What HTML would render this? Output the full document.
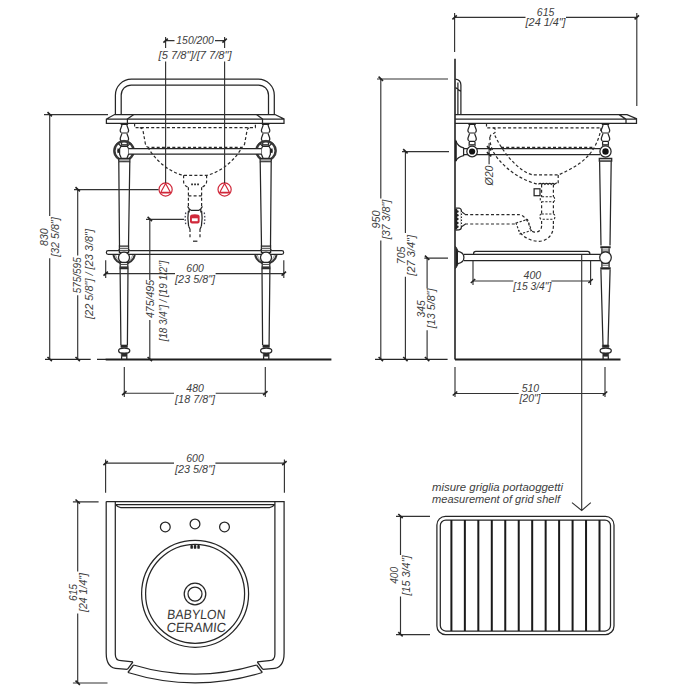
<!DOCTYPE html>
<html><head><meta charset="utf-8">
<style>
html,body{margin:0;padding:0;background:#fff;width:700px;height:700px;overflow:hidden}
svg{display:block}
text{font-family:"Liberation Sans",sans-serif;font-style:italic;fill:#404040}
.o{stroke:#262626;stroke-width:1.25}
.d{stroke:#333;stroke-width:1.15}
.h{stroke:#2a2a2a;stroke-width:1.2;stroke-dasharray:3 2.2}
.tk{stroke:#222;stroke-width:1.6}
.r{stroke:#d0283a;stroke-width:1.2}
</style></head><body>
<svg width="700" height="700" viewBox="0 0 700 700" fill="none">
<defs>
 <g id="tick"><path class="tk" d="M-2.2,2 L2.2,-2"/></g>
 <g id="tickv"><path class="tk" d="M-2.2,-2.4 L2.2,1.8"/></g>
</defs>

<!-- ================= FRONT VIEW ================= -->
<g id="front">
 <!-- towel bar -->
 <path class="o" d="M115.4 114.5 V95.2 A16 16 0 0 1 131.4 79.2 H258.3 A16 16 0 0 1 274.3 95.2 V114.5"/>
 <path class="o" d="M121.2 114.5 V95 A10 10 0 0 1 131.2 85 H258.5 A10 10 0 0 1 268.5 95 V114.5"/>
 <!-- countertop -->
 <path class="o" d="M114.6 114.5 H275 L284 119 V123.4 H106.4 V119 Z M106.4 119 H284"/>
 <path class="o" d="M133.8 114.5 L127.4 119 V123.4 M256.5 114.5 L262.5 119 V123.4"/>
 <!-- shelf rod (under collars) -->
 <path class="o" d="M108.2 250.6 H281.8 A1.85 1.85 0 0 1 281.8 254.3 H108.2 A1.85 1.85 0 0 1 108.2 250.6 Z" fill="#fff"/>
 <!-- left half (mirrored) -->
 <g id="fleft">
  <!-- baluster -->
  <g id="balus" transform="translate(124.4,0)">
   <path d="M-3.7 123.6 H3.7 V125 H-3.7 Z M-3.3 132.4 H3.3 V133.6 H-3.3 Z M-3.3 140.7 H3.3 V142 H-3.3 Z" fill="#222"/>
   <path class="o" d="M-2.5 125 C-2.7 127 -4.2 128.6 -4.2 130.5 C-4.2 131.6 -3.6 132.2 -3.3 132.6 M2.5 125 C2.7 127 4.2 128.6 4.2 130.5 C4.2 131.6 3.6 132.2 3.3 132.6 M-2.6 133.6 C-2.6 135 -4.2 137 -4.2 139 C-4.2 139.9 -3.6 140.4 -3.3 140.8 M2.6 133.6 C2.6 135 4.2 137 4.2 139 C4.2 139.9 3.6 140.4 3.3 140.8"/>
   <path class="o" d="M-2.9 142 V146.3 M2.9 142 V146.3" />
   <rect x="-2.9" y="144.6" width="5.8" height="1.8" fill="#888"/>
   <path d="M-2.9 144.6 H2.9" stroke="#333" stroke-width="0.9"/>
  </g>
  <!-- top ring -->
  <circle cx="124" cy="150.8" r="9.5" stroke="#3a3a3a" stroke-width="2.2"/>
  <circle cx="124" cy="150.8" r="10.5" stroke="#222" stroke-width="0.6"/>
  <path d="M117.6 148.3 Q116.8 150.8 117.6 153.3 L119.4 152.6 V149 Z" fill="#222"/>
  <path class="o" d="M121.1 146.3 L118.3 143.6 M127.3 146.3 L129.9 143.6 M121.3 158.3 L118.4 160.8 M126.9 158.3 L129.8 160.8"/>
  <path class="o" d="M121.1 146.3 L119.6 148.8 V154.2 L121.3 158.3 H126.9 L128.6 154.2 V148.8 L127.3 146.3 Z" fill="#fff"/>
  <path d="M118.8 158.6 H129.9 V161.7 H118.8 Z" fill="#aaa" stroke="#262626" stroke-width="1.1"/>
  <!-- upper leg -->
  <path class="o" d="M118.8 161.7 L119.5 246.3 M129.8 161.7 L128.5 246.3"/>
  <!-- shelf joint -->
  <path d="M113.4 255 A10.9 10.9 0 0 0 134.8 255" stroke="#333" stroke-width="2"/>
  <path d="M115.6 255 A8.6 8.6 0 0 0 132.6 255" stroke="#666" stroke-width="0.7"/>
  <path d="M116.3 250.6 Q119.4 250.2 119.4 247.2 V250.6 Z M131.7 250.6 Q128.6 250.2 128.6 247.2 V250.6 Z" fill="#333"/>
  <path class="o" d="M119.4 246.2 H128.6 V252.4 H119.4 Z" fill="#fff"/>
  <path d="M119.4 248.3 H128.6 M119.4 250.4 H128.6" stroke="#444" stroke-width="1"/>
  <circle class="o" cx="124" cy="257.6" r="5.5" fill="#fff"/>
  <path class="o" d="M120.2 262.4 H127.8 V268.6 H120.2 Z" fill="#fff"/>
  <path d="M120.2 264.4 H127.8" stroke="#444" stroke-width="1"/>
  <path d="M119.6 266.4 H128.4 V268.6 H119.6 Z" fill="#333"/>
  <!-- lower leg -->
  <path class="o" d="M120.1 268.6 L120.9 345 M128 268.6 L127.4 345"/>
 </g>
 <use href="#fleft" transform="translate(390,0) scale(-1,1)"/>
 <!-- rods (over rings) -->
 <path d="M128.6 148.5 H261.4 V154 H128.6 Z" fill="#fff"/>
 <path class="o" d="M128.6 148.5 H261.4 M128.6 154 H261.4"/>
 <!-- basin hidden -->
 <path class="h" d="M134.6 123.4 V127.6 H255.4 V123.4"/>
 <path class="h" d="M139.8 127.6 Q142.8 128 143.1 131.2 L145.1 142.3 Q145.8 147.3 148.5 147.3 H241.5 Q244.2 147.3 244.9 142.3 L246.9 131.2 Q247.2 128 250.2 127.6"/>
 <path class="h" d="M148.1 147.4 C153 157 166 171 183 175.3 H207 C224 171 237 157 241.9 147.4"/>
 <path class="h" d="M183.6 175.3 V182 Q184 185.5 188.1 187.3 M206.6 175.3 V182 Q206 185.5 201.9 187.3 M188.4 187.3 V207 M201.6 187.3 V207 M188.4 195.9 H201.6"/>
 <path d="M191.2 183.6 h1.7 v1.7 h-1.7 Z M194.2 183.6 h1.7 v1.7 h-1.7 Z M197.2 183.6 h1.7 v1.7 h-1.7 Z" fill="#222"/>
 <path class="o" d="M187.6 206.3 L189.3 209 L191.3 210.4 H198.7 L200.7 209 L202.4 206.3 M189.2 209 V212.5 M200.8 209 V212.5"/>
 <path d="M185.8 212.5 Q184.6 218.5 185.8 224.5 M204.2 212.5 Q205.4 218.5 204.2 224.5" stroke="#445" stroke-width="1.3" stroke-dasharray="1.6 1.8"/>
 <path class="o" d="M188.6 226.2 L190 229 M201.4 226.2 L200 229"/>
 <path class="h" d="M190 229 V238.5 M200 229 V238.5"/>
 <path d="M193 241.2 H197.4" stroke="#222" stroke-width="1.2"/>
 <path class="o" d="M188.4 210.8 Q187.2 218 188.6 226.2 M201.6 210.8 Q202.8 218 201.4 226.2"/>
 <path d="M190 216.5 Q190 214.3 194.8 214.3 Q199.6 214.3 199.6 216.5 V221.6 Q199.6 223.5 197.6 223.5 H192 Q190 223.5 190 221.6 Z" fill="#d0283a"/>
 <rect x="191.9" y="218.3" width="5.8" height="2.9" fill="#fff"/>
 <!-- red valves -->
 <g class="r">
  <circle cx="165.6" cy="189.5" r="6.6"/>
  <path d="M165.6 183.5 L170.4 192.3 H160.8 Z M159.8 193 H171.4"/>
  <circle cx="224.6" cy="189.5" r="6.6"/>
  <path d="M224.6 183.5 L229.4 192.3 H219.8 Z M218.8 193 H230.4"/>
 </g>
 <!-- feet -->
 <g id="foot">
  <path d="M120.9 345 H127.4 V347.4 H120.9 Z" fill="#2a2a2a" stroke="#2a2a2a" stroke-width="0.6"/>
  <ellipse class="o" cx="124.2" cy="350.7" rx="5.6" ry="2.6" fill="#fff"/>
  <path d="M121.3 353 H127.1 V356.3 H121.3 Z" fill="#2a2a2a" stroke="#2a2a2a" stroke-width="0.6"/>
  <path class="o" d="M121.6 356.3 V359 M126.8 356.3 V359"/>
 </g>
 <use href="#foot" transform="translate(142,0)"/>
 <!-- floor -->
 <path class="o" d="M45 359.4 H90.7 M97 359.4 H106"/><path d="M105.7 359.5 H331.4" stroke="#1e1e1e" stroke-width="1.8"/>
</g>

<!-- front dims -->
<g id="fdims">
 <path class="d" d="M165.6 37 V48 M165.6 61.5 V183 M224.6 37 V48 M224.6 61.5 V183"/>
 <path class="d" d="M165.6 40.6 H174.5 M215 40.6 H224.6"/>
 <use href="#tick" x="165.6" y="40.6"/><use href="#tick" x="224.6" y="40.6"/>
 <text x="195.1" y="44" font-size="10" text-anchor="middle" textLength="37.5" lengthAdjust="spacingAndGlyphs">150/200</text>
 <text x="195.1" y="58.8" font-size="10" text-anchor="middle" textLength="73" lengthAdjust="spacingAndGlyphs">[5 7/8"]/[7 7/8"]</text>
 <!-- 830 -->
 <path class="d" d="M44 114.6 H108 M49.7 114.6 V216 M49.7 258.3 V359.4"/>
 <use href="#tickv" x="49.7" y="114.6"/><use href="#tickv" x="49.7" y="359.4"/>
 <text transform="translate(47.8,237.1) rotate(-90)" font-size="10" text-anchor="middle" textLength="17.7" lengthAdjust="spacingAndGlyphs">830</text>
 <text transform="translate(59.3,237.1) rotate(-90)" font-size="10" text-anchor="middle" textLength="39.4" lengthAdjust="spacingAndGlyphs">[32 5/8"]</text>
 <!-- 575/595 -->
 <path class="d" d="M74 189.6 H158.5 M77.7 189.6 V255.4 M77.7 295.3 V359.4"/>
 <use href="#tickv" x="77.7" y="189.6"/><use href="#tickv" x="77.7" y="359.4"/>
 <text transform="translate(81.3,275.3) rotate(-90)" font-size="10" text-anchor="middle" textLength="36" lengthAdjust="spacingAndGlyphs">575/595</text>
 <text transform="translate(92.7,274) rotate(-90)" font-size="10" text-anchor="middle" textLength="90" lengthAdjust="spacingAndGlyphs">[22 5/8"] / [23 3/8"]</text>
 <!-- 475/495 -->
 <path class="d" d="M146 219.3 H184 M149.8 219.3 V280 M149.8 320 V359.4"/>
 <use href="#tickv" x="149.8" y="219.3"/><use href="#tickv" x="149.8" y="359.4"/>
 <text transform="translate(153.6,299) rotate(-90)" font-size="10" text-anchor="middle" textLength="38" lengthAdjust="spacingAndGlyphs">475/495</text>
 <text transform="translate(166.5,301) rotate(-90)" font-size="10" text-anchor="middle" textLength="80.7" lengthAdjust="spacingAndGlyphs">[18 3/4"] / [19 1/2"]</text>
 <!-- 600 -->
 <path class="d" d="M105.7 260.3 V278 M283.8 260.3 V278 M105.7 273.6 H175 M215.6 273.6 H283.8"/>
 <use href="#tick" x="105.7" y="273.6"/><use href="#tick" x="283.8" y="273.6"/>
 <text x="195.1" y="272.4" font-size="10" text-anchor="middle" textLength="17.5" lengthAdjust="spacingAndGlyphs">600</text>
 <text x="195.1" y="282.8" font-size="10" text-anchor="middle" textLength="40" lengthAdjust="spacingAndGlyphs">[23 5/8"]</text>
 <!-- 480 -->
 <path class="d" d="M124.3 367 V397 M265.3 367 V397 M124.3 393.2 H174 M215.7 393.2 H265.3"/>
 <use href="#tick" x="124.3" y="393.2"/><use href="#tick" x="265.3" y="393.2"/>
 <text x="195.1" y="392" font-size="10" text-anchor="middle" textLength="17.5" lengthAdjust="spacingAndGlyphs">480</text>
 <text x="195.1" y="402.6" font-size="10" text-anchor="middle" textLength="40" lengthAdjust="spacingAndGlyphs">[18 7/8"]</text>
</g>

<!-- ================= SIDE VIEW ================= -->
<g id="side">
 <path d="M455 58.7 V359.4" fill="none" stroke="#222" stroke-width="1.6"/>
 <path class="d" d="M454.6 13 V52"/>
 <!-- towel side -->
 <path class="o" d="M455.5 79.2 Q460.9 80 460.9 85 V114.6 M457.9 82.4 V114.6 M455.5 87.6 L460.9 91.4"/>
 <!-- countertop -->
 <path class="o" d="M455 114.6 H627 L636.5 118.6 V123.4 H455 M455 119.1 H636.5 M619 114.6 L626 119.1 V123.4"/>
 <!-- balusters -->
 <use href="#balus" transform="translate(347.7,0)"/>
 <use href="#balus" transform="translate(481.1,0)"/>
 <!-- wall flange top -->
 <path class="o" d="M455.5 140 Q457.5 146.5 463.6 147.9 V155.7 Q457.5 157 455.5 161.4" fill="#fff"/>
<path d="M455 141 H456.8 V161 H455 Z" fill="#222"/>
 <!-- rod top -->
 <path class="o" d="M463.6 148.6 H600 M463.6 154.6 H600"/>
 <circle cx="472.1" cy="151.5" r="5.3" class="o" fill="#fff"/>
 <circle cx="472.1" cy="151.5" r="3.1" fill="#111"/>
 <circle cx="605.5" cy="151.5" r="5.6" class="o" fill="#fff"/>
 <circle cx="605.5" cy="151.5" r="3.2" fill="#111"/>
 <!-- basin -->
 <path class="h" d="M486.5 123.4 V127.8 H601.2"/>
 <path class="h" d="M493.1 127.8 C495.5 128 495.6 130 495.4 131.5 C495.2 134 490.5 133.5 490.2 136.5 V137"/>
 <path class="h" d="M494.9 135.4 C502.6 152.4 519.1 172.1 533.1 174.9 H558.6 C582.6 164 596 153.9 601.2 127.9"/>
 <path class="h" d="M489.8 137 C490 150 496 158 507 168 C515 175 527 182 538.5 184.3"/>
 <path class="h" d="M501 147.3 H593.7"/>
 <!-- drain -->
 <path class="h" d="M541.6 184.5 V225.7 M553.4 184.5 V225.7 M558.2 175 V183.5"/>
 <path class="o" d="M538.5 184.3 q1.6 -2 3.2 0 q1.6 -2 3.2 0 q1.6 -2 3.2 0 q1.6 -2 3.2 0 q1.6 -2 3.2 0 q1.3 -1.6 2.4 -1.2"/>
 <rect x="534.1" y="188.8" width="5.9" height="6.9" class="o" fill="#fff"/>
 <rect x="540.3" y="196.8" width="14.3" height="4.9" rx="1.6" stroke="#2a2a2a" stroke-width="1.1" stroke-dasharray="2.2 1.6" fill="#fff"/>
 <rect x="540" y="214" width="14.8" height="5.3" rx="1.6" stroke="#2a2a2a" stroke-width="1.1" stroke-dasharray="2.2 1.6" fill="#fff"/>
 <!-- trap -->
 <path class="h" d="M465 214.6 H518.6 C522 214.6 527 218 529.3 225.7 M465 224 H516.4 M553.4 225.7 C553.4 236 546 241.3 539 241.3 C530 241.3 522 236.5 518.6 230 M541.6 225.7 C541.6 230 538.5 232.4 534.7 232.2 C532.3 232 530.6 230 529.8 228"/>
 <path stroke="#2a2a2a" stroke-width="1.1" stroke-dasharray="2.2 1.6" d="M516 223 L527.5 219.5 L531.5 230.5 L520 234 Z"/>
 <path class="o" d="M455.5 208 H459 Q461.4 208.5 461.4 211 V227 Q461.4 229.5 459 229.8 L455.5 230.2"/>
 <path d="M455 209 H457.2 V229.5 H455 Z" fill="#222"/>
 <g fill="#222"><circle cx="457.4" cy="211.5" r="1.25"/><circle cx="457.4" cy="215.3" r="1.25"/><circle cx="457.4" cy="219.1" r="1.25"/><circle cx="457.4" cy="222.9" r="1.25"/><circle cx="457.4" cy="226.7" r="1.25"/></g>
 <path d="M461.4 212 V227" stroke="#fff" stroke-width="1.3" stroke-dasharray="1.5 1.5"/>
 <path d="M462 212 L465.5 214.6 M462 226.5 L465.5 224" stroke="#2a2a2a" stroke-width="1.1"/>
 <!-- O20 -->
 <path class="d" d="M489.1 143 V164.3"/>
 <use href="#tickv" x="489.1" y="148.6"/><use href="#tickv" x="489.1" y="154.6"/>
 <text transform="translate(492.8,175.5) rotate(-90)" font-size="10" text-anchor="middle" textLength="20" lengthAdjust="spacingAndGlyphs">Ø20</text>
 <!-- shelf -->
 <path class="o" d="M473.6 254.3 V253.5 A2.2 2.2 0 0 1 475.8 251.3 H587.6 A2.2 2.2 0 0 1 589.8 253.5 V254.3"/>
 <path class="o" d="M463.9 254.3 H600 M463.9 260.7 H600"/>
 <path d="M455.5 246.4 Q458 250 458 251.4 V263.6 Q458 265 455.5 268.6" fill="#222" stroke="#222" stroke-width="1"/>
 <path class="o" d="M458 251.4 Q463.9 252.5 463.9 257.5 Q463.9 262.5 458 263.6" fill="#fff"/>
 <!-- right leg -->
 <path class="o" d="M599.3 158.3 H611.7 V161.2 H599.3 Z" fill="#bbb"/>
 <path class="o" d="M599.6 161.2 L601 245.5 M611.2 161.2 L610 245.5"/>
 <path d="M600.3 246.2 H610.7 V248.3 H600.3 Z M600.3 267.2 H610.7 V269.5 H600.3 Z" fill="#222"/>
 <path class="o" d="M601.9 248.3 V253.5 M609.1 248.3 V253.5 M601.9 261.8 V267.2 M609.1 261.8 V267.2"/>
 <path d="M601.9 250 H609.1 M601.9 251.7 H609.1 M601.9 263.5 H609.1 M601.9 265.2 H609.1" stroke="#555" stroke-width="0.9"/>
 <circle cx="605.5" cy="257.6" r="5.8" class="o" fill="#fff"/>
 
 <path class="o" d="M600.9 269.5 L603 345 M610.1 269.5 L608 345"/>
 <use href="#foot" transform="translate(481.5,0)"/>
 <!-- floor -->
 <path class="o" d="M375 359.4 H447.6"/><path d="M455 359.5 H620.5" stroke="#1e1e1e" stroke-width="1.8"/>
</g>
<g id="sdims">
 <!-- 615 -->
 <path class="d" d="M454.6 17.4 H525.5 M566 17.4 H637 M636.8 13 V106"/>
 <use href="#tick" x="454.6" y="17.4"/><use href="#tick" x="636.8" y="17.4"/>
 <text x="545.6" y="16.4" font-size="10" text-anchor="middle" textLength="17.5" lengthAdjust="spacingAndGlyphs">615</text>
 <text x="545.6" y="25.6" font-size="10" text-anchor="middle" textLength="40" lengthAdjust="spacingAndGlyphs">[24 1/4"]</text>
 <!-- 950 -->
 <path class="d" d="M377 79 H448 M380.8 79 V198.6 M380.8 240.4 V359.4"/>
 <use href="#tickv" x="380.8" y="79"/><use href="#tickv" x="380.8" y="359.4"/>
 <text transform="translate(379.6,219.5) rotate(-90)" font-size="10" text-anchor="middle" textLength="18.2" lengthAdjust="spacingAndGlyphs">950</text>
 <text transform="translate(390.2,219.5) rotate(-90)" font-size="10" text-anchor="middle" textLength="39.7" lengthAdjust="spacingAndGlyphs">[37 3/8"]</text>
 <!-- 705 -->
 <path class="d" d="M402 151.6 H449 M405.4 151.6 V232.9 M405.4 276.8 V359.4"/>
 <use href="#tickv" x="405.4" y="151.6"/><use href="#tickv" x="405.4" y="359.4"/>
 <text transform="translate(404.7,255.4) rotate(-90)" font-size="10" text-anchor="middle" textLength="17.5" lengthAdjust="spacingAndGlyphs">705</text>
 <text transform="translate(414.8,255.3) rotate(-90)" font-size="10" text-anchor="middle" textLength="40.7" lengthAdjust="spacingAndGlyphs">[27 3/4"]</text>
 <!-- 345 -->
 <path class="d" d="M424.3 258.1 H448 M427.1 258.1 V288.6 M427.1 330.3 V359.4"/>
 <use href="#tickv" x="427.1" y="258.1"/><use href="#tickv" x="427.1" y="359.4"/>
 <text transform="translate(425.3,308.9) rotate(-90)" font-size="10" text-anchor="middle" textLength="17.2" lengthAdjust="spacingAndGlyphs">345</text>
 <text transform="translate(434.9,308.4) rotate(-90)" font-size="10" text-anchor="middle" textLength="39.6" lengthAdjust="spacingAndGlyphs">[13 5/8"]</text>
 <!-- 400 -->
 <path class="d" d="M473 260.7 V285 M590.6 260.7 V285 M473 281 H513.3 M551.3 281 H590.6"/>
 <use href="#tick" x="473" y="281"/><use href="#tick" x="590.6" y="281"/>
 <text x="532.3" y="279" font-size="10" text-anchor="middle" textLength="17.5" lengthAdjust="spacingAndGlyphs">400</text>
 <text x="532.3" y="290" font-size="10" text-anchor="middle" textLength="38" lengthAdjust="spacingAndGlyphs">[15 3/4"]</text>
 <!-- arrow -->
 <path class="d" d="M581.7 254.5 V510.5 M572 502.6 L581.7 510.5 L590.8 502.6"/>
 <!-- 510 -->
 <path class="d" d="M455 367 V397 M605 367 V397 M455 393.5 H518.7 M541 393.5 H605"/>
 <use href="#tick" x="455" y="393.5"/><use href="#tick" x="605" y="393.5"/>
 <text x="530.4" y="392" font-size="10" text-anchor="middle" textLength="17.5" lengthAdjust="spacingAndGlyphs">510</text>
 <text x="530" y="402" font-size="10" text-anchor="middle" textLength="21" lengthAdjust="spacingAndGlyphs">[20"]</text>
</g>

<!-- ================= TOP VIEW ================= -->
<g id="top">
 <path class="o" d="M106.2 501.6 H284.1 V652.9 Q284.1 668.6 271.9 668.6 L262.8 669.3 M106.2 501.6 V652.9 Q106.2 668.6 118.3 668.6 L127.4 669.3"/>
 <path class="o" d="M115.3 501.6 V654.3 Q115.3 660.7 121.1 660.7 L132.9 661.8 M274.9 501.6 V654.3 Q274.9 660.7 269.1 660.7 L257.3 661.8"/>
 <path class="o" d="M127.4 669.3 L132.9 662 M127.9 672.5 L133.6 665 M262.8 669.3 L257.3 662 M262.3 672.5 L256.6 665"/>
 <path class="o" d="M133.6 665 A214 214 0 0 0 256.6 665 M127.9 672.5 A228 228 0 0 0 262.3 672.5"/>
 <path class="o" d="M115.3 504.6 H274.9 M115.5 504.6 Q118 507.5 120.7 507.5 H269.5 Q272.2 507.5 274.7 504.6"/>
 <circle class="o" cx="165.3" cy="526.9" r="4.9"/>
 <circle class="o" cx="195" cy="523.9" r="4.9"/>
 <circle class="o" cx="224.5" cy="526.9" r="4.9"/>
 <circle class="o" cx="195.1" cy="593.8" r="53.5"/>
 <circle class="o" cx="195.1" cy="593.8" r="49.5"/>
 <g fill="#222"><rect x="190.4" y="545" width="2.5" height="3.8" rx="0.9"/><rect x="193.8" y="545" width="2.5" height="3.8" rx="0.9"/><rect x="197.3" y="545" width="2.5" height="3.8" rx="0.9"/></g>
 <circle class="o" cx="195" cy="594" r="10.8"/>
 <circle class="o" cx="195" cy="594" r="7"/>
 <text transform="translate(195.9,619) skewX(-6)" font-size="13.3" text-anchor="middle" textLength="58.5" lengthAdjust="spacingAndGlyphs" style="fill:#383838;font-style:normal">BABYLON</text>
 <text transform="translate(195.9,632) skewX(-6)" font-size="13.3" text-anchor="middle" textLength="59.5" lengthAdjust="spacingAndGlyphs" style="fill:#383838;font-style:normal">CERAMIC</text>
</g>
<g id="tdims">
 <!-- 600 -->
 <path class="d" d="M105.6 459.5 V492.8 M284.4 459.5 V492.8 M105.6 463.1 H174 M215.4 463.1 H284.4"/>
 <use href="#tick" x="105.6" y="463.1"/><use href="#tick" x="284.4" y="463.1"/>
 <text x="195" y="462.2" font-size="10" text-anchor="middle" textLength="17.5" lengthAdjust="spacingAndGlyphs">600</text>
 <text x="195" y="472.6" font-size="10" text-anchor="middle" textLength="40" lengthAdjust="spacingAndGlyphs">[23 5/8"]</text>
 <!-- 615 -->
 <path class="d" d="M72.9 501.9 H98.6 M72.9 683 H107.5 M77.7 501.9 V571.6 M77.7 613.4 V683"/>
 <use href="#tickv" x="77.7" y="501.9"/><use href="#tickv" x="77.7" y="683"/>
 <text transform="translate(77.3,592.5) rotate(-90)" font-size="10" text-anchor="middle" textLength="17" lengthAdjust="spacingAndGlyphs">615</text>
 <text transform="translate(87.4,592.5) rotate(-90)" font-size="10" text-anchor="middle" textLength="39" lengthAdjust="spacingAndGlyphs">[24 1/4"]</text>
</g>

<!-- ================= GRID SHELF ================= -->
<g id="grid">
 <rect class="o" x="436.9" y="516.4" width="177.1" height="118.1" rx="8.5"/>
 <rect class="o" x="440.3" y="520.1" width="170.2" height="110.9" rx="5.5"/>
 <path d="M451.40 520.1 V631 M464.86 520.1 V631 M478.33 520.1 V631 M491.79 520.1 V631 M505.26 520.1 V631 M518.73 520.1 V631 M532.19 520.1 V631 M545.65 520.1 V631 M559.12 520.1 V631 M572.59 520.1 V631 M586.05 520.1 V631 M599.51 520.1 V631 " fill="none" stroke="#1a1a1a" stroke-width="2"/>
 <path class="d" d="M396 516.4 H430 M396 634.6 H430 M400.5 516.4 V555 M400.5 596.5 V634.6"/>
 <use href="#tickv" x="400.5" y="516.4"/><use href="#tickv" x="400.5" y="634.6"/>
 <text transform="translate(398.4,575.3) rotate(-90)" font-size="10" text-anchor="middle" textLength="17" lengthAdjust="spacingAndGlyphs">400</text>
 <text transform="translate(409.8,575.5) rotate(-90)" font-size="10" text-anchor="middle" textLength="40" lengthAdjust="spacingAndGlyphs">[15 3/4"]</text>
 <text x="432" y="490.9" font-size="10.2" textLength="131" lengthAdjust="spacingAndGlyphs">misure griglia portaoggetti</text>
 <text x="432" y="503.2" font-size="10.2" textLength="128" lengthAdjust="spacingAndGlyphs">measurement of grid shelf</text>
</g>
</svg>
</body></html>
